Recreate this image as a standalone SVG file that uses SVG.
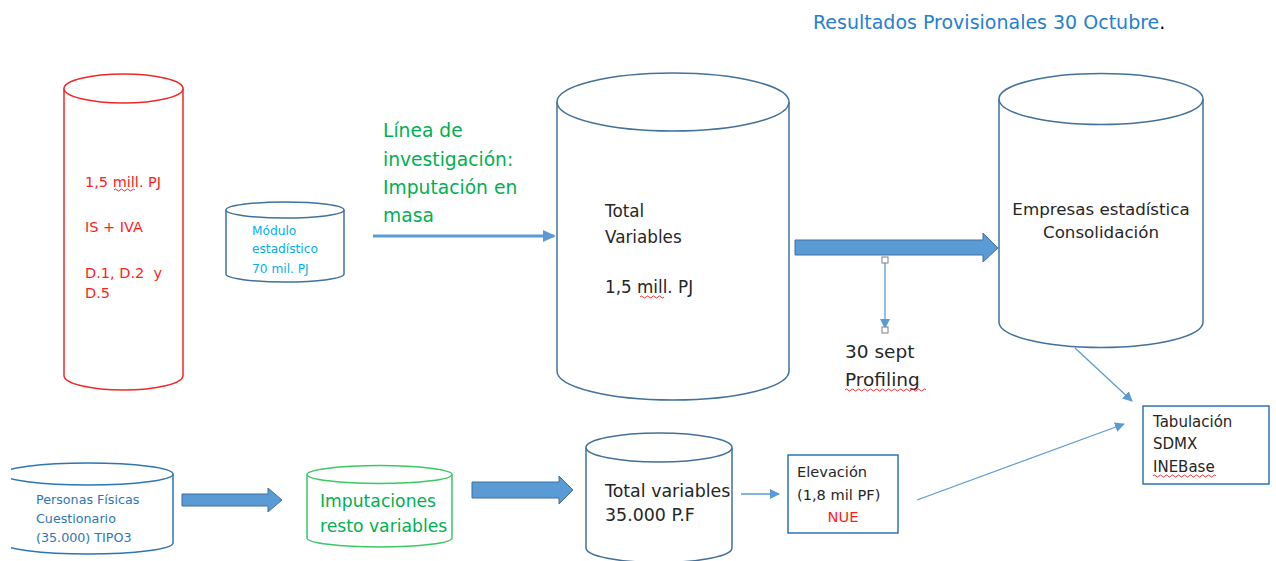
<svg xmlns="http://www.w3.org/2000/svg" width="1276" height="561" viewBox="0 0 1276 561">
<style>
text{font-family:"DejaVu Sans","Liberation Sans",sans-serif}
.cyl{fill:#fff;stroke:#41719C;stroke-width:1.5}
.red{stroke:#F02828}
.grn{stroke:#3CC864}
.blu{stroke:#2E75B6}
.tr{fill:#FF1C1C;font-size:14.5px}
.tk{fill:#262626}
.thin{stroke:#5B9BD5;stroke-width:1.3;fill:none}
.blk{fill:#5B9BD5;stroke:#41719C;stroke-width:1}
.sq{fill:#fff;stroke:#7F7F7F;stroke-width:1}
.wav{fill:none;stroke:#E02020;stroke-width:0.9}
</style>
<defs>
<marker id="ah" viewBox="0 0 10 10" refX="9" refY="5" markerWidth="10" markerHeight="10" markerUnits="userSpaceOnUse" orient="auto">
<path d="M0,0 L10,5 L0,10 z" fill="#5B9BD5"/>
</marker>
<clipPath id="cl"><rect x="11" y="440" width="200" height="121"/></clipPath>
</defs>

<text x="813" y="29" font-size="19" fill="#2580CF">Resultados Provisionales 30 Octubre<tspan fill="#000">.</tspan></text>

<g id="connectors">
<line x1="373" y1="236" x2="554" y2="236" stroke="#5B9BD5" stroke-width="3"/>
<path d="M543,230 L556,236 L543,242 z" fill="#5B9BD5"/>
<path class="blk" d="M795,240 L983,240 L983,233 L998,248 L983,262 L983,255 L795,255 z"/>
<line class="thin" x1="885" y1="261" x2="885" y2="328" marker-end="url(#ah)"/>
<rect class="sq" x="882" y="257" width="6" height="6"/>
<rect class="sq" x="882" y="327" width="6" height="6"/>
<path class="blk" d="M182,494 L268,494 L268,488 L282,500 L268,512 L268,506 L182,506 z"/>
<path class="blk" d="M472,482 L559,482 L559,476 L573,490 L559,504 L559,498 L472,498 z"/>
<line class="thin" x1="741" y1="494" x2="779" y2="494" marker-end="url(#ah)"/>
<line class="thin" x1="1075" y1="348" x2="1132" y2="401" marker-end="url(#ah)"/>
<line class="thin" x1="917" y1="500" x2="1124" y2="424" marker-end="url(#ah)"/>
</g>

<g id="n-red">
<path class="cyl red" d="M64,88.5 L64,375.5 A59.5,14.5 0 0 0 183,375.5 L183,88.5"/>
<ellipse class="cyl red" cx="123.5" cy="88.5" rx="59.5" ry="14.5"/>
<text class="tr" x="85" y="187">1,5 mill. PJ</text>
<path class="wav" d="M114,190 q1.5,-2 3,0 t3,0 t3,0 t3,0 t3,0 t3,0 t3,0"/>
<text class="tr" x="85" y="232">IS + IVA</text>
<text class="tr" x="85" y="278" xml:space="preserve">D.1, D.2  y</text>
<text class="tr" x="85" y="298">D.5</text>
</g>

<g id="n-modulo">
<path class="cyl" d="M226,210 L226,274 A59,8 0 0 0 344,274 L344,210"/>
<ellipse class="cyl" cx="285" cy="210" rx="59" ry="8"/>
<text x="252" y="235" font-size="12.2" fill="#00B0F0">Módulo</text>
<text x="252" y="253" font-size="12.2" fill="#00B0F0">estadístico</text>
<text x="252" y="273" font-size="12.2" fill="#00B0F0">70 mil. PJ</text>
</g>

<g id="n-linea">
<text x="383" y="137" font-size="18.7" fill="#00B050">Línea de</text>
<text x="383" y="166" font-size="18.7" fill="#00B050">investigación:</text>
<text x="383" y="194" font-size="18.7" fill="#00B050">Imputación en</text>
<text x="383" y="222" font-size="18.7" fill="#00B050">masa</text>
</g>

<g id="n-total">
<path class="cyl" d="M557,102 L557,371 A116,29 0 0 0 789,371 L789,102"/>
<ellipse class="cyl" cx="673" cy="102" rx="116" ry="29"/>
<text class="tk" x="605" y="217" font-size="16.8">Total</text>
<text class="tk" x="605" y="243" font-size="16.8">Variables</text>
<text class="tk" x="605" y="293" font-size="16.8">1,5 mill. PJ</text>
<path class="wav" d="M640,297 q1.5,-2 3,0 t3,0 t3,0 t3,0 t3,0 t3,0 t3,0 t3,0"/>
</g>

<g id="n-profiling">
<text class="tk" x="845" y="358" font-size="18.5">30 sept</text>
<text class="tk" x="845" y="386" font-size="18.5">Profiling</text>
<path class="wav" d="M845,390 q1.5,-2 3,0 t3,0 t3,0 t3,0 t3,0 t3,0 t3,0 t3,0 t3,0 t3,0 t3,0 t3,0 t3,0 t3,0 t3,0 t3,0 t3,0 t3,0 t3,0 t3,0 t3,0 t3,0 t3,0 t3,0 t3,0 t3,0 t3,0"/>
</g>

<g id="n-empresas">
<path class="cyl" d="M999,99 L999,322 A102,25.5 0 0 0 1203,322 L1203,99"/>
<ellipse class="cyl" cx="1101" cy="99" rx="102" ry="25.5"/>
<text class="tk" x="1101" y="215" font-size="16.7" text-anchor="middle">Empresas estadística</text>
<text class="tk" x="1101" y="238" font-size="16.7" text-anchor="middle">Consolidación</text>
</g>

<g id="n-tabulacion">
<rect x="1143" y="406" width="126" height="78" fill="#fff" stroke="#2E75B6" stroke-width="1.5"/>
<text class="tk" x="1153" y="427" font-size="15">Tabulación</text>
<text class="tk" x="1153" y="449" font-size="15">SDMX</text>
<text class="tk" x="1153" y="472" font-size="15">INEBase</text>
<path class="wav" d="M1153,476 q1.5,-2 3,0 t3,0 t3,0 t3,0 t3,0 t3,0 t3,0 t3,0 t3,0 t3,0 t3,0 t3,0 t3,0 t3,0 t3,0 t3,0 t3,0 t3,0 t3,0 t3,0 t3,0"/>
</g>

<g id="n-personas">
<g clip-path="url(#cl)">
<path class="cyl blu" d="M3,474 L3,543 A85,11 0 0 0 173,543 L173,474"/>
<ellipse class="cyl blu" cx="88" cy="474" rx="85" ry="11"/>
</g>
<text x="36" y="504" font-size="12.7" fill="#2E75B6">Personas Físicas</text>
<text x="36" y="523" font-size="12.7" fill="#2E75B6">Cuestionario</text>
<text x="36" y="542" font-size="12.7" fill="#2E75B6">(35.000) TIPO3</text>
</g>

<g id="n-imputaciones">
<path class="cyl grn" d="M307,474.5 L307,538 A72.5,9 0 0 0 452,538 L452,474.5"/>
<ellipse class="cyl grn" cx="379.5" cy="474.5" rx="72.5" ry="9"/>
<text x="320" y="507" font-size="17.2" fill="#00B050">Imputaciones</text>
<text x="320" y="532" font-size="17.2" fill="#00B050">resto variables</text>
</g>

<g id="n-total35">
<path class="cyl" d="M586,447.5 L586,548 A73,14.5 0 0 0 732,548 L732,447.5"/>
<ellipse class="cyl" cx="659" cy="447.5" rx="73" ry="14.5"/>
<text class="tk" x="605" y="497" font-size="17.4">Total variables</text>
<text class="tk" x="605" y="521" font-size="17.4">35.000 P.F</text>
</g>

<g id="n-elevacion">
<rect x="788" y="455" width="110" height="78" fill="#fff" stroke="#2E75B6" stroke-width="1.5"/>
<text class="tk" x="797" y="477" font-size="14.6">Elevación</text>
<text class="tk" x="797" y="500" font-size="14.6">(1,8 mil PF)</text>
<text x="843" y="522" font-size="14.6" fill="#FF1C1C" text-anchor="middle">NUE</text>
</g>
</svg>
